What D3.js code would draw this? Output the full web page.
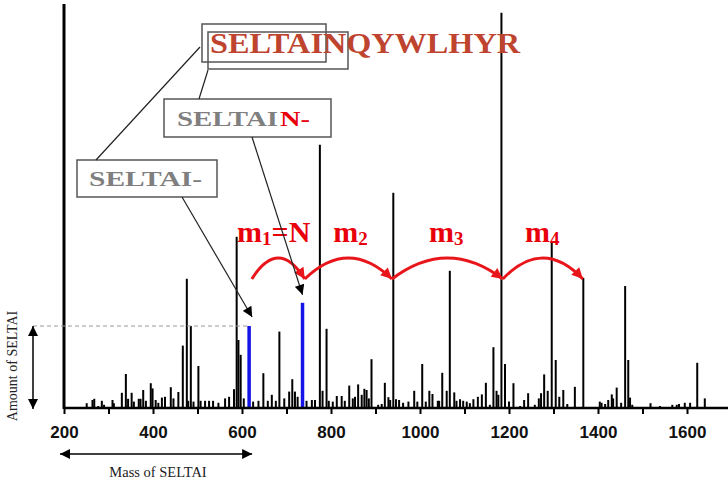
<!DOCTYPE html>
<html>
<head>
  <meta charset="utf-8">
  <title>SELTAI spectrum</title>
  <style>
    body { margin: 0; background: #fff; }
    svg { display: block; }
  </style>
</head>
<body>
  <svg width="728" height="483"></svg>
  <script src="https://d3js.org/d3.v7.min.js"></script>
  <script>
    // data: mass (m/z) and relative intensity (0-100)
    var peakMass = [476, 485, 467, 502, 339, 588, 592, 597, 648, 684, 713, 706, 775, 781, 790,
      891, 940, 921, 1005, 1050, 1067, 1165, 1183, 1191, 1210, 1279, 1296, 1305, 1348, 1367,
      1461, 1468, 1442, 1623, 1640,
      251, 264, 268, 277, 285, 290, 309, 312, 330, 344, 352, 357, 368, 372, 378, 384, 395, 399,
      406, 412, 420, 427, 440, 446, 457, 479, 491, 507, 517, 526, 535, 547, 562, 571, 582, 604,
      625, 637, 658, 667, 676, 695, 719, 725, 745, 757, 764, 795, 804, 813, 824, 831, 841, 849,
      854, 861, 869, 875, 880, 885, 906, 914, 929, 933, 946, 953, 962, 974, 987, 994, 1013, 1021,
      1028, 1040, 1043, 1060, 1077, 1082, 1090, 1097, 1105, 1112, 1120, 1130, 1139, 1148, 1157,
      1172, 1176, 1200, 1225, 1234, 1243, 1258, 1267, 1272, 1287, 1313, 1322, 1331, 1404, 1408,
      1416, 1423, 1431, 1434, 1452, 1472, 1477, 1518, 1539, 1567, 1577, 1582, 1595, 1607];
    var peakIntensity = [32.3, 20.5, 15.6, 10.5, 8.5, 42.8, 17, 13.3, 8.7, 19.1, 7.2, 4.1, 65.8, 4.3, 19.8,
      12.2, 53.8, 6.3, 11, 8.8, 34.3, 15.2, 98.8, 11, 6.2, 8.4, 41.5, 12, 5.3, 32.5,
      30.5, 12, 5.1, 11.3, 2.4,
      1.2, 2, 2.3, 0.5, 1.8, 0.8, 2, 1.2, 3.8, 2.3, 3.8, 1.6, 2.3, 2.3, 4.5, 1.8, 6.2, 4.9,
      2, 1.3, 2.6, 2.8, 5.2, 2.4, 4, 1.8, 1.6, 1.8, 1.8, 1.8, 1.8, 1.3, 2.4, 2.8, 4.7, 2.4,
      1.6, 1.8, 1.8, 3.3, 1.8, 2.4, 4.1, 2.8, 1.8, 2, 2, 1.8, 1.6, 3, 3, 1.8, 5.6, 2.4,
      2.8, 5.9, 3.3, 4.8, 4.5, 2.4, 0.8, 1, 2.7, 2, 2.2, 2, 1.3, 1.6, 4.3, 1.6, 1.6, 4.3,
      3.5, 1.8, 1.8, 4.3, 3.9, 1.8, 2.2, 1.8, 1.6, 1.2, 2.2, 2.8, 3.4, 6.3, 0.8,
      4.3, 3.3, 1.6, 0.5, 2, 3.7, 0.8, 2.4, 3.7, 4.3, 2.8, 4.5, 1, 1.6, 1.3,
      1, 2, 3.4, 2.4, 1.3, 2.6, 0.8, 1.2, 0.5, 0.8, 0.8, 1, 1.3, 1.3];
    var blueMass = [616, 736];
    var blueIntensity = [20.5, 26.3];
    var massTicks = d3.range(200, 1701, 100);
    var arcStops = [622, 741, 937, 1186, 1366];
    var mLabels = [["m", "1", "=N"], ["m", "2", ""], ["m", "3", ""], ["m", "4", ""]];
    var mLabelMass = [589, 805, 1020, 1236];

    var svg = d3.select("svg");
    var x = d3.scaleLinear().domain([200, 1700]).range([64, 731.5]);
    var y = d3.scaleLinear().domain([0, 100]).range([408, 8]);

    // markers
    var defs = svg.append("defs");
    function marker(id, color, w, h) {
      defs.append("marker")
        .attr("id", id)
        .attr("viewBox", "0 0 10 10")
        .attr("refX", 10).attr("refY", 5)
        .attr("markerUnits", "userSpaceOnUse")
        .attr("markerWidth", w).attr("markerHeight", h)
        .attr("orient", "auto-start-reverse")
        .append("path").attr("d", "M0,0L10,5L0,10z").attr("fill", color);
    }
    marker("blk", "#000", 12, 10);
    marker("red", "#e8161b", 13, 11);

    // peaks
    svg.append("g").selectAll("line")
      .data(peakMass)
      .enter().append("line")
      .attr("x1", function (d) { return x(d); })
      .attr("x2", function (d) { return x(d); })
      .attr("y1", y(0))
      .attr("y2", function (d, i) { return y(peakIntensity[i]); })
      .attr("stroke", "#000")
      .attr("stroke-width", 2);

    svg.append("g").selectAll("line")
      .data(blueMass)
      .enter().append("line")
      .attr("x1", function (d) { return x(d); })
      .attr("x2", function (d) { return x(d); })
      .attr("y1", y(0))
      .attr("y2", function (d, i) { return y(blueIntensity[i]); })
      .attr("stroke", "#1414e6")
      .attr("stroke-width", 3.5);

    // axes
    var xAxis = d3.axisBottom(x)
      .tickValues(massTicks)
      .tickSize(6)
      .tickPadding(12)
      .tickFormat(function (d) { return d % 200 === 0 ? d : ""; });
    var gx = svg.append("g").attr("transform", "translate(0," + y(0) + ")").call(xAxis);
    gx.select(".domain").attr("stroke-width", 2.5).attr("d", "M64,0H728");
    gx.selectAll(".tick line").attr("stroke-width", 2);
    gx.selectAll("text")
      .attr("font-family", "Liberation Sans, Arial, sans-serif")
      .attr("font-weight", "bold")
      .attr("font-size", 17)
      .attr("fill", "#111");

    svg.append("line")
      .attr("x1", x(200)).attr("x2", x(200))
      .attr("y1", y(0) + 1).attr("y2", y(101))
      .attr("stroke", "#000").attr("stroke-width", 3);

    // amount / mass of SELTAI
    svg.append("line")
      .attr("x1", 33).attr("x2", x(blueMass[0]) - 2)
      .attr("y1", y(blueIntensity[0])).attr("y2", y(blueIntensity[0]))
      .attr("stroke", "#999").attr("stroke-width", 1.2)
      .attr("stroke-dasharray", "4,3");
    svg.append("line")
      .attr("x1", 33).attr("x2", 33)
      .attr("y1", y(blueIntensity[0])).attr("y2", y(0) + 1)
      .attr("stroke", "#000").attr("stroke-width", 1.5)
      .attr("marker-start", "url(#blk)").attr("marker-end", "url(#blk)");
    svg.append("text")
      .attr("transform", "translate(17,366) rotate(-90)")
      .attr("text-anchor", "middle")
      .attr("font-family", "Liberation Serif, Times New Roman, serif")
      .attr("font-size", 14)
      .attr("fill", "#222")
      .text("Amount of  SELTAI");

    svg.append("line")
      .attr("x1", 60).attr("x2", x(blueMass[0]) + 3)
      .attr("y1", 454).attr("y2", 454)
      .attr("stroke", "#000").attr("stroke-width", 1.5)
      .attr("marker-start", "url(#blk)").attr("marker-end", "url(#blk)");
    svg.append("text")
      .attr("x", 158).attr("y", 477)
      .attr("text-anchor", "middle")
      .attr("font-family", "Liberation Serif, Times New Roman, serif")
      .attr("font-size", 14.5)
      .attr("fill", "#222")
      .text("Mass of SELTAI");

    // red arcs between fragment peaks
    var arcBase = y(32.25), arcTop = y(37.5);
    svg.append("g").selectAll("path")
      .data(d3.pairs(arcStops))
      .enter().append("path")
      .attr("d", function (p) {
        var x0 = x(p[0]), x1 = x(p[1]), xc = (x0 + x1) / 2;
        return "M" + x0 + "," + arcBase + "Q" + xc + "," + (2 * arcTop - arcBase) + " " + x1 + "," + arcBase;
      })
      .attr("fill", "none")
      .attr("stroke", "#e8161b")
      .attr("stroke-width", 3)
      .attr("marker-end", "url(#red)");

    // m labels
    var ml = svg.append("g").selectAll("text")
      .data(mLabels)
      .enter().append("text")
      .attr("x", function (d, i) { return x(mLabelMass[i]); })
      .attr("y", 242)
      .attr("font-family", "Liberation Serif, Times New Roman, serif")
      .attr("font-weight", "bold")
      .attr("font-size", 30)
      .attr("fill", "#e8000b");
    ml.append("tspan").text(function (d) { return d[0]; });
    ml.append("tspan").attr("font-size", 19).attr("dy", 3).text(function (d) { return d[1]; });
    ml.append("tspan").attr("dy", -3).text(function (d) { return d[2]; });

    // fragment boxes
    var serif = "Liberation Serif, Times New Roman, serif";
    function box(x0, y0, w, h) {
      svg.append("rect").attr("x", x0).attr("y", y0).attr("width", w).attr("height", h)
        .attr("fill", "none").attr("stroke", "#555").attr("stroke-width", 1.5);
    }
    function label(t, x0, yb, len, size, color) {
      svg.append("text").attr("x", x0).attr("y", yb)
        .attr("font-family", serif).attr("font-weight", "bold")
        .attr("font-size", size).attr("fill", color)
        .attr("textLength", len).attr("lengthAdjust", "spacingAndGlyphs")
        .text(t);
    }
    function seg(x1, y1, x2, y2, arrow) {
      var l = svg.append("line").attr("x1", x1).attr("y1", y1).attr("x2", x2).attr("y2", y2)
        .attr("stroke", "#222").attr("stroke-width", 1.2);
      if (arrow) l.attr("marker-end", "url(#blk)");
    }

    box(202, 24, 124, 38);
    box(208, 32, 140, 37);
    label("SELTAINQYWLHYR", 210, 53, 310, 29, "#bf4430");

    box(164, 99, 167, 38);
    label("SELTAI", 177, 126, 101, 22, "#7f7f7f");
    label("N-", 280, 126, 30, 22, "#e8000b");

    box(77, 160, 140, 37);
    label("SELTAI-", 89, 186, 113, 22, "#7f7f7f");

    seg(200, 47, 96, 160, false);
    seg(208, 70, 199, 99, false);
    seg(252, 137, x(blueMass[1]), y(blueIntensity[1]) - 8, true);
    seg(182, 197, x(blueMass[0]) + 3, y(blueIntensity[0]) - 9, true);
  </script>
</body>
</html>
